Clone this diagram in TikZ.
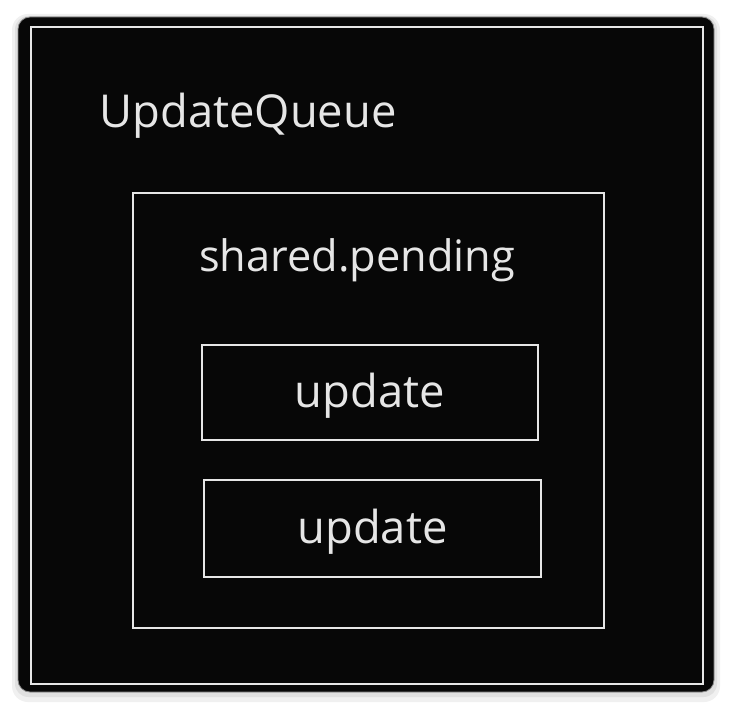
\documentclass[tikz,border=0pt]{standalone}
\usepackage{fontspec}
\setmainfont{Open Sans}
\definecolor{chalk}{HTML}{E6E6E6}
\definecolor{board}{HTML}{070707}
\tikzset{
    sketchbox/.style={draw=chalk, line width=1.6pt, inner sep=0pt},
    label/.style={text=chalk, font=\fontsize{34}{38}\selectfont, anchor=base},
}
\begin{document}
\begin{tikzpicture}[x=0.75pt, y=-0.75pt]
    \useasboundingbox (0, 0) rectangle (733, 710);
    \fill[white] (0, 0) rectangle (733, 710);
    % shadow and board
    \fill[black!6, rounded corners=12pt] (12, 14) rectangle (720, 702);
    \fill[black!12, rounded corners=10pt] (15, 16) rectangle (717, 697);
    \filldraw[fill=board, draw=black!45, line width=0.6pt, rounded corners=9pt] (18, 17) rectangle (714, 692);

    \node[sketchbox, minimum width=504pt, minimum height=492.75pt] (queue) at (367, 355.5) {};
    \node[sketchbox, minimum width=353.25pt, minimum height=326.25pt] (shared) at (368.5, 410.5) {};
    \node[sketchbox, minimum width=252pt, minimum height=71.25pt] (upd1) at (370, 392.5) {};
    \node[sketchbox, minimum width=252.75pt, minimum height=72.75pt] (upd2) at (372.5, 528.5) {};

    \node[label] (queuetxt) at (248, 128) {UpdateQueue};
    \node[label, font=\fontsize{32.5}{36}\selectfont] (sharedtxt) at (357, 272) {shared.pending};
    \node[label] at (upd1.center) [yshift=-11pt] (upd1txt) {update};
    \node[label] at (upd2.center) [yshift=-11pt] (upd2txt) {update};
\end{tikzpicture}
\end{document}
